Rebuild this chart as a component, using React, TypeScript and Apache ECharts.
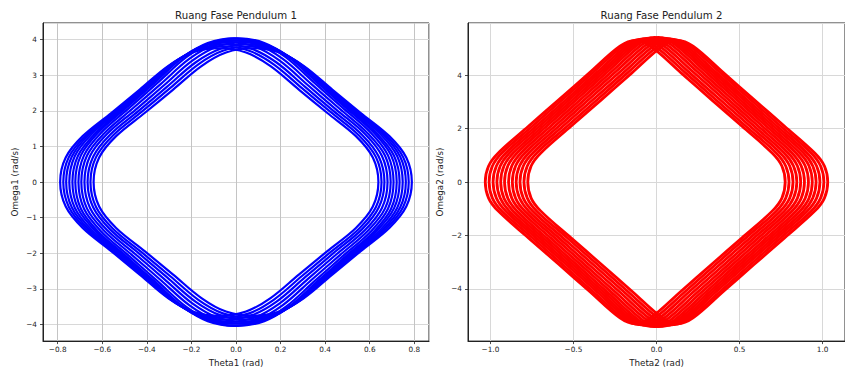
import React, { useEffect, useRef } from "react";
import * as echarts from "echarts";

// ---- Pendulum 1 phase-space loops (theta1 in rad, omega1 in rad/s) ----
const theta1Loops: number[][] = [
  [-0.789,-0.764,-0.688,-0.560,-0.432,-0.305,-0.195,-0.075,0.045,0.155,0.282,0.410,0.538,0.614,0.639,0.614,0.538,0.410,0.282,0.155,0.045,-0.075,-0.195,-0.305,-0.432,-0.560,-0.688,-0.764],
  [-0.775,-0.750,-0.674,-0.546,-0.418,-0.291,-0.181,-0.061,0.059,0.169,0.296,0.424,0.552,0.628,0.653,0.628,0.552,0.424,0.296,0.169,0.059,-0.061,-0.181,-0.291,-0.418,-0.546,-0.674,-0.750],
  [-0.762,-0.737,-0.661,-0.533,-0.405,-0.278,-0.168,-0.048,0.072,0.182,0.309,0.437,0.565,0.641,0.666,0.641,0.565,0.437,0.309,0.182,0.072,-0.048,-0.168,-0.278,-0.405,-0.533,-0.661,-0.737],
  [-0.748,-0.723,-0.647,-0.519,-0.391,-0.264,-0.154,-0.034,0.086,0.196,0.323,0.451,0.579,0.655,0.680,0.655,0.579,0.451,0.323,0.196,0.086,-0.034,-0.154,-0.264,-0.391,-0.519,-0.647,-0.723],
  [-0.734,-0.709,-0.633,-0.505,-0.377,-0.250,-0.140,-0.020,0.100,0.210,0.337,0.465,0.593,0.669,0.694,0.669,0.593,0.465,0.337,0.210,0.100,-0.020,-0.140,-0.250,-0.377,-0.505,-0.633,-0.709],
  [-0.721,-0.696,-0.620,-0.492,-0.364,-0.237,-0.127,-0.007,0.113,0.223,0.350,0.478,0.606,0.682,0.707,0.682,0.606,0.478,0.350,0.223,0.113,-0.007,-0.127,-0.237,-0.364,-0.492,-0.620,-0.696],
  [-0.707,-0.682,-0.606,-0.478,-0.350,-0.223,-0.113,0.007,0.127,0.237,0.364,0.492,0.620,0.696,0.721,0.696,0.620,0.492,0.364,0.237,0.127,0.007,-0.113,-0.223,-0.350,-0.478,-0.606,-0.682],
  [-0.694,-0.669,-0.593,-0.465,-0.337,-0.210,-0.100,0.020,0.140,0.250,0.377,0.505,0.633,0.709,0.734,0.709,0.633,0.505,0.377,0.250,0.140,0.020,-0.100,-0.210,-0.337,-0.465,-0.593,-0.669],
  [-0.680,-0.655,-0.579,-0.451,-0.323,-0.196,-0.086,0.034,0.154,0.264,0.391,0.519,0.647,0.723,0.748,0.723,0.647,0.519,0.391,0.264,0.154,0.034,-0.086,-0.196,-0.323,-0.451,-0.579,-0.655],
  [-0.666,-0.641,-0.565,-0.437,-0.309,-0.182,-0.072,0.048,0.168,0.278,0.405,0.533,0.661,0.737,0.762,0.737,0.661,0.533,0.405,0.278,0.168,0.048,-0.072,-0.182,-0.309,-0.437,-0.565,-0.641],
  [-0.653,-0.628,-0.552,-0.424,-0.296,-0.169,-0.059,0.061,0.181,0.291,0.418,0.546,0.674,0.750,0.775,0.750,0.674,0.546,0.418,0.291,0.181,0.061,-0.059,-0.169,-0.296,-0.424,-0.552,-0.628],
  [-0.639,-0.614,-0.538,-0.410,-0.282,-0.155,-0.045,0.075,0.195,0.305,0.432,0.560,0.688,0.764,0.789,0.764,0.688,0.560,0.432,0.305,0.195,0.075,-0.045,-0.155,-0.282,-0.410,-0.538,-0.614],
];
const omega1Loops: number[][] = [
  [0,0.69,1.29,1.94,2.60,3.26,3.64,3.76,3.64,3.26,2.60,1.94,1.29,0.69,0,-0.69,-1.29,-1.94,-2.60,-3.26,-3.64,-3.76,-3.64,-3.26,-2.60,-1.94,-1.29,-0.69],
  [0,0.70,1.31,1.97,2.64,3.31,3.69,3.81,3.69,3.31,2.64,1.97,1.31,0.70,0,-0.70,-1.31,-1.97,-2.64,-3.31,-3.69,-3.81,-3.69,-3.31,-2.64,-1.97,-1.31,-0.70],
  [0,0.71,1.33,2.00,2.68,3.36,3.74,3.87,3.74,3.36,2.68,2.00,1.33,0.71,0,-0.71,-1.33,-2.00,-2.68,-3.36,-3.74,-3.87,-3.74,-3.36,-2.68,-2.00,-1.33,-0.71],
  [0,0.73,1.35,2.03,2.72,3.41,3.80,3.93,3.80,3.41,2.72,2.03,1.35,0.73,0,-0.73,-1.35,-2.03,-2.72,-3.41,-3.80,-3.93,-3.80,-3.41,-2.72,-2.03,-1.35,-0.73],
  [0,0.74,1.36,2.06,2.76,3.46,3.85,3.98,3.85,3.46,2.76,2.06,1.36,0.74,0,-0.74,-1.36,-2.06,-2.76,-3.46,-3.85,-3.98,-3.85,-3.46,-2.76,-2.06,-1.36,-0.74],
  [0,0.75,1.38,2.09,2.80,3.51,3.91,4.04,3.91,3.51,2.80,2.09,1.38,0.75,0,-0.75,-1.38,-2.09,-2.80,-3.51,-3.91,-4.04,-3.91,-3.51,-2.80,-2.09,-1.38,-0.75],
  [0,0.75,1.38,2.09,2.80,3.51,3.91,4.04,3.91,3.51,2.80,2.09,1.38,0.75,0,-0.75,-1.38,-2.09,-2.80,-3.51,-3.91,-4.04,-3.91,-3.51,-2.80,-2.09,-1.38,-0.75],
  [0,0.74,1.36,2.06,2.76,3.46,3.85,3.98,3.85,3.46,2.76,2.06,1.36,0.74,0,-0.74,-1.36,-2.06,-2.76,-3.46,-3.85,-3.98,-3.85,-3.46,-2.76,-2.06,-1.36,-0.74],
  [0,0.73,1.35,2.03,2.72,3.41,3.80,3.93,3.80,3.41,2.72,2.03,1.35,0.73,0,-0.73,-1.35,-2.03,-2.72,-3.41,-3.80,-3.93,-3.80,-3.41,-2.72,-2.03,-1.35,-0.73],
  [0,0.71,1.33,2.00,2.68,3.36,3.74,3.87,3.74,3.36,2.68,2.00,1.33,0.71,0,-0.71,-1.33,-2.00,-2.68,-3.36,-3.74,-3.87,-3.74,-3.36,-2.68,-2.00,-1.33,-0.71],
  [0,0.70,1.31,1.97,2.64,3.31,3.69,3.81,3.69,3.31,2.64,1.97,1.31,0.70,0,-0.70,-1.31,-1.97,-2.64,-3.31,-3.69,-3.81,-3.69,-3.31,-2.64,-1.97,-1.31,-0.70],
  [0,0.69,1.29,1.94,2.60,3.26,3.64,3.76,3.64,3.26,2.60,1.94,1.29,0.69,0,-0.69,-1.29,-1.94,-2.60,-3.26,-3.64,-3.76,-3.64,-3.26,-2.60,-1.94,-1.29,-0.69],
];

// ---- Pendulum 2 phase-space loops (theta2 in rad, omega2 in rad/s) ----
const theta2Loops: number[][] = [
  [-1.031,-1.011,-0.954,-0.771,-0.587,-0.404,-0.220,-0.128,-0.036,0.148,0.331,0.515,0.698,0.755,0.775,0.755,0.698,0.515,0.331,0.148,-0.036,-0.128,-0.220,-0.404,-0.587,-0.771,-0.954,-1.011],
  [-1.008,-0.988,-0.931,-0.748,-0.564,-0.381,-0.197,-0.105,-0.013,0.171,0.354,0.538,0.721,0.778,0.798,0.778,0.721,0.538,0.354,0.171,-0.013,-0.105,-0.197,-0.381,-0.564,-0.748,-0.931,-0.988],
  [-0.984,-0.964,-0.907,-0.724,-0.540,-0.357,-0.173,-0.081,0.011,0.195,0.378,0.562,0.745,0.802,0.822,0.802,0.745,0.562,0.378,0.195,0.011,-0.081,-0.173,-0.357,-0.540,-0.724,-0.907,-0.964],
  [-0.961,-0.941,-0.884,-0.701,-0.517,-0.334,-0.150,-0.058,0.034,0.218,0.401,0.585,0.768,0.825,0.845,0.825,0.768,0.585,0.401,0.218,0.034,-0.058,-0.150,-0.334,-0.517,-0.701,-0.884,-0.941],
  [-0.938,-0.918,-0.861,-0.678,-0.494,-0.311,-0.127,-0.035,0.057,0.241,0.424,0.608,0.791,0.848,0.868,0.848,0.791,0.608,0.424,0.241,0.057,-0.035,-0.127,-0.311,-0.494,-0.678,-0.861,-0.918],
  [-0.915,-0.895,-0.838,-0.655,-0.471,-0.288,-0.104,-0.012,0.080,0.264,0.447,0.631,0.814,0.871,0.891,0.871,0.814,0.631,0.447,0.264,0.080,-0.012,-0.104,-0.288,-0.471,-0.655,-0.838,-0.895],
  [-0.891,-0.871,-0.814,-0.631,-0.447,-0.264,-0.080,0.012,0.104,0.288,0.471,0.655,0.838,0.895,0.915,0.895,0.838,0.655,0.471,0.288,0.104,0.012,-0.080,-0.264,-0.447,-0.631,-0.814,-0.871],
  [-0.868,-0.848,-0.791,-0.608,-0.424,-0.241,-0.057,0.035,0.127,0.311,0.494,0.678,0.861,0.918,0.938,0.918,0.861,0.678,0.494,0.311,0.127,0.035,-0.057,-0.241,-0.424,-0.608,-0.791,-0.848],
  [-0.845,-0.825,-0.768,-0.585,-0.401,-0.218,-0.034,0.058,0.150,0.334,0.517,0.701,0.884,0.941,0.961,0.941,0.884,0.701,0.517,0.334,0.150,0.058,-0.034,-0.218,-0.401,-0.585,-0.768,-0.825],
  [-0.822,-0.802,-0.745,-0.562,-0.378,-0.195,-0.011,0.081,0.173,0.357,0.540,0.724,0.907,0.964,0.984,0.964,0.907,0.724,0.540,0.357,0.173,0.081,-0.011,-0.195,-0.378,-0.562,-0.745,-0.802],
  [-0.798,-0.778,-0.721,-0.538,-0.354,-0.171,0.013,0.105,0.197,0.381,0.564,0.748,0.931,0.988,1.008,0.988,0.931,0.748,0.564,0.381,0.197,0.105,0.013,-0.171,-0.354,-0.538,-0.721,-0.778],
  [-0.775,-0.755,-0.698,-0.515,-0.331,-0.148,0.036,0.128,0.220,0.404,0.587,0.771,0.954,1.011,1.031,1.011,0.954,0.771,0.587,0.404,0.220,0.128,0.036,-0.148,-0.331,-0.515,-0.698,-0.755],
];
const omega2Loops: number[][] = [
  [0,0.60,1.08,2.09,3.09,4.09,5.09,5.31,5.09,4.09,3.09,2.09,1.08,0.60,0,-0.60,-1.08,-2.09,-3.09,-4.09,-5.09,-5.31,-5.09,-4.09,-3.09,-2.09,-1.08,-0.60],
  [0,0.60,1.09,2.09,3.10,4.11,5.11,5.34,5.11,4.11,3.10,2.09,1.09,0.60,0,-0.60,-1.09,-2.09,-3.10,-4.11,-5.11,-5.34,-5.11,-4.11,-3.10,-2.09,-1.09,-0.60],
  [0,0.60,1.09,2.10,3.11,4.12,5.13,5.36,5.13,4.12,3.11,2.10,1.09,0.60,0,-0.60,-1.09,-2.10,-3.11,-4.12,-5.13,-5.36,-5.13,-4.12,-3.11,-2.10,-1.09,-0.60],
  [0,0.60,1.10,2.11,3.13,4.14,5.15,5.38,5.15,4.14,3.13,2.11,1.10,0.60,0,-0.60,-1.10,-2.11,-3.13,-4.14,-5.15,-5.38,-5.15,-4.14,-3.13,-2.11,-1.10,-0.60],
  [0,0.61,1.10,2.12,3.14,4.16,5.17,5.40,5.17,4.16,3.14,2.12,1.10,0.61,0,-0.61,-1.10,-2.12,-3.14,-4.16,-5.17,-5.40,-5.17,-4.16,-3.14,-2.12,-1.10,-0.61],
  [0,0.61,1.10,2.13,3.15,4.17,5.19,5.42,5.19,4.17,3.15,2.13,1.10,0.61,0,-0.61,-1.10,-2.13,-3.15,-4.17,-5.19,-5.42,-5.19,-4.17,-3.15,-2.13,-1.10,-0.61],
  [0,0.61,1.10,2.13,3.15,4.17,5.19,5.42,5.19,4.17,3.15,2.13,1.10,0.61,0,-0.61,-1.10,-2.13,-3.15,-4.17,-5.19,-5.42,-5.19,-4.17,-3.15,-2.13,-1.10,-0.61],
  [0,0.61,1.10,2.12,3.14,4.16,5.17,5.40,5.17,4.16,3.14,2.12,1.10,0.61,0,-0.61,-1.10,-2.12,-3.14,-4.16,-5.17,-5.40,-5.17,-4.16,-3.14,-2.12,-1.10,-0.61],
  [0,0.60,1.10,2.11,3.13,4.14,5.15,5.38,5.15,4.14,3.13,2.11,1.10,0.60,0,-0.60,-1.10,-2.11,-3.13,-4.14,-5.15,-5.38,-5.15,-4.14,-3.13,-2.11,-1.10,-0.60],
  [0,0.60,1.09,2.10,3.11,4.12,5.13,5.36,5.13,4.12,3.11,2.10,1.09,0.60,0,-0.60,-1.09,-2.10,-3.11,-4.12,-5.13,-5.36,-5.13,-4.12,-3.11,-2.10,-1.09,-0.60],
  [0,0.60,1.09,2.09,3.10,4.11,5.11,5.34,5.11,4.11,3.10,2.09,1.09,0.60,0,-0.60,-1.09,-2.09,-3.10,-4.11,-5.11,-5.34,-5.11,-4.11,-3.10,-2.09,-1.09,-0.60],
  [0,0.60,1.08,2.09,3.09,4.09,5.09,5.31,5.09,4.09,3.09,2.09,1.08,0.60,0,-0.60,-1.08,-2.09,-3.09,-4.09,-5.09,-5.31,-5.09,-4.09,-3.09,-2.09,-1.08,-0.60],
];

// ---- axes: extents and tick steps ----
const x1Extent = [-0.866, 0.866];
const y1Extent = [-4.47, 4.47];
const x2Extent = [-1.135, 1.135];
const y2Extent = [-5.96, 5.96];
const x1Step = 0.2;
const y1Step = 1;
const x2Step = 0.5;
const y2Step = 2;

const titles = ["Ruang Fase Pendulum 1", "Ruang Fase Pendulum 2"];
const xNames = ["Theta1 (rad)", "Theta2 (rad)"];
const yNames = ["Omega1 (rad/s)", "Omega2 (rad/s)"];

const FONT = "DejaVu Sans";
const TEXT = "#222";

const fmt = (digits: number) => (v: number) => {
  const s = (Math.abs(v) < 1e-9 ? 0 : v).toFixed(digits);
  return s.replace("-", "\u2212");
};

function makeAxis(
  ext: number[],
  step: number,
  name: string,
  gridIndex: number,
  isX: boolean,
  digits: number,
  gridColor: string
) {
  return {
    type: "value",
    gridIndex,
    min: ext[0],
    max: ext[1],
    minInterval: step,
    maxInterval: step,
    name,
    nameLocation: "middle",
    nameGap: isX ? 16 : 24,
    nameTextStyle: { fontFamily: FONT, fontSize: 8.75, color: TEXT },
    axisLine: { show: true, onZero: false, lineStyle: { color: "#222", width: 1 } },
    axisTick: { show: true, inside: false, length: 3, lineStyle: { color: "#222", width: 0.8 } },
    axisLabel: {
      show: true,
      margin: isX ? 5 : 6,
      fontFamily: FONT,
      fontSize: 7.3,
      color: TEXT,
      showMinLabel: false,
      showMaxLabel: false,
      formatter: fmt(digits),
    },
    splitLine: { show: true, lineStyle: { color: gridColor, width: 1 } },
  };
}

function loopSeries(
  thetas: number[][],
  omegas: number[][],
  axisIndex: number,
  color: string,
  width: number
) {
  return {
    type: "custom",
    coordinateSystem: "cartesian2d",
    xAxisIndex: axisIndex,
    yAxisIndex: axisIndex,
    silent: true,
    data: thetas.map(() => [0, 0]),
    renderItem: (params: any, api: any) => {
      const i = params.dataIndex;
      const pts = thetas[i].map((t, j) => api.coord([t, omegas[i][j]]));
      return {
        type: "polygon",
        shape: { points: pts, smooth: 0.35 },
        style: { fill: "none", stroke: color, lineWidth: width },
      };
    },
  };
}

export default function App() {
  const ref = useRef<HTMLDivElement>(null);

  useEffect(() => {
    if (!ref.current) return;
    const chart = echarts.init(ref.current, undefined, { renderer: "svg" });

    chart.setOption({
      animation: false,
      backgroundColor: "#ffffff",
      grid: [
        { left: 43, top: 23, width: 386, height: 319, show: true, borderColor: "#222", borderWidth: 1, backgroundColor: "transparent" },
        { left: 468, top: 23, width: 387, height: 319, show: true, borderColor: "#222", borderWidth: 1, backgroundColor: "transparent" },
      ],
      xAxis: [
        makeAxis(x1Extent, x1Step, xNames[0], 0, true, 1, "#c4c4c4"),
        makeAxis(x2Extent, x2Step, xNames[1], 1, true, 1, "#d8d8d8"),
      ],
      yAxis: [
        makeAxis(y1Extent, y1Step, yNames[0], 0, false, 0, "#d8d8d8"),
        makeAxis(y2Extent, y2Step, yNames[1], 1, false, 0, "#d8d8d8"),
      ],
      graphic: [
        { type: "text", x: 236, y: 15, style: { text: titles[0], fontFamily: FONT, fontSize: 10.2, fill: TEXT, align: "center", verticalAlign: "middle" } },
        { type: "text", x: 661.5, y: 15, style: { text: titles[1], fontFamily: FONT, fontSize: 10.2, fill: TEXT, align: "center", verticalAlign: "middle" } },
      ],
      series: [
        loopSeries(theta1Loops, omega1Loops, 0, "#0000ff", 2.2),
        loopSeries(theta2Loops, omega2Loops, 1, "#ff0000", 2.8),
      ],
    });

    return () => chart.dispose();
  }, []);

  return (
    <div
      ref={ref}
      style={{ position: "absolute", left: 0, top: 0, width: 845, height: 372 }}
    />
  );
}
